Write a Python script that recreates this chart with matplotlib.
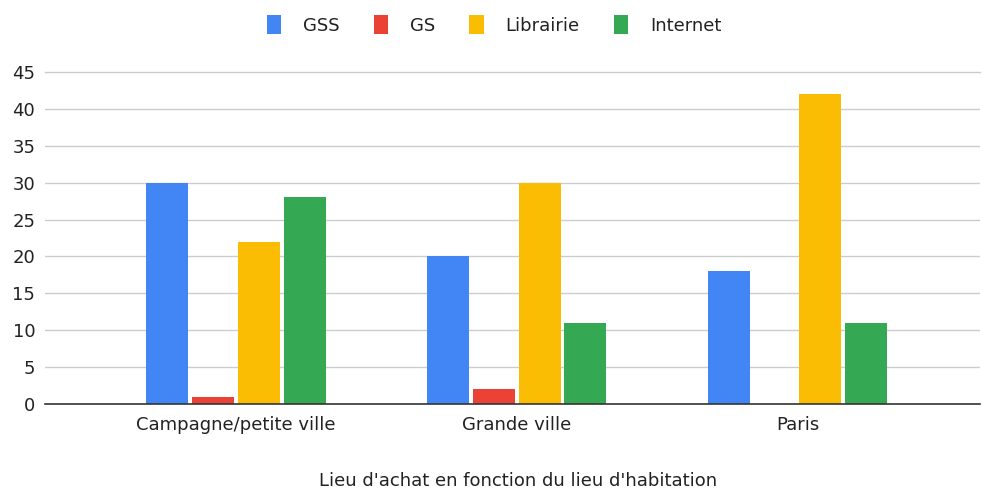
import matplotlib.pyplot as plt
import numpy as np

plt.rcParams['font.family'] = ['DejaVu Sans']

categories = ["Campagne/petite ville", "Grande ville", "Paris"]
series = ["GSS", "GS", "Librairie", "Internet"]
gss = [30, 20, 18]
gs = [1, 2, 0]
librairie = [22, 30, 42]
internet = [28, 11, 11]
colors = ["#4285F4", "#EA4335", "#FBBC04", "#34A853"]

fig = plt.figure(figsize=(9.82, 4.93), dpi=100)
ax = fig.add_axes([45 / 982, 1 - 404 / 493, 935 / 982, 332 / 493])

x = np.arange(len(categories))
width = 0.15
step = 0.163
for i, (name, vals) in enumerate(zip(series, [gss, gs, librairie, internet])):
    offs = (i - 1.5) * step
    ax.bar(x + offs, vals, width, color=colors[i], label=name, zorder=3)

ax.set_ylim(0, 45)
ax.set_xlim(-0.68, 2.65)
ax.set_yticks(range(0, 50, 5))
ax.set_xticks(x)
ax.set_xticklabels(categories)
ax.tick_params(axis='both', length=0, labelsize=13, colors='#444444')
ax.tick_params(axis='y', pad=7)
ax.tick_params(axis='x', pad=9)
ax.grid(axis='y', color='#cccccc', linewidth=1, zorder=0)
for s in ['top', 'right', 'left']:
    ax.spines[s].set_visible(False)
ax.spines['bottom'].set_color('#333333')
ax.spines['bottom'].set_linewidth(1.2)
ax.spines['bottom'].set_zorder(4)
for t in ax.get_yticklabels() + ax.get_xticklabels():
    t.set_color('#222222')
ax.yaxis.get_gridlines()[-1].set_clip_on(False)

ax.set_xlabel("Lieu d'achat en fonction du lieu d'habitation", fontsize=13,
              color='#222222')
ax.xaxis.set_label_coords(0.506, (404 - 472) / 332)

leg = fig.legend(loc='center', bbox_to_anchor=(0.503, 1 - 25 / 493), ncol=4,
                 frameon=False, fontsize=13, handlelength=0.8, handleheight=1.25,
                 columnspacing=1.9, handletextpad=1.2)
for t in leg.get_texts():
    t.set_color('#222222')

fig.savefig("out.png", dpi=100)
